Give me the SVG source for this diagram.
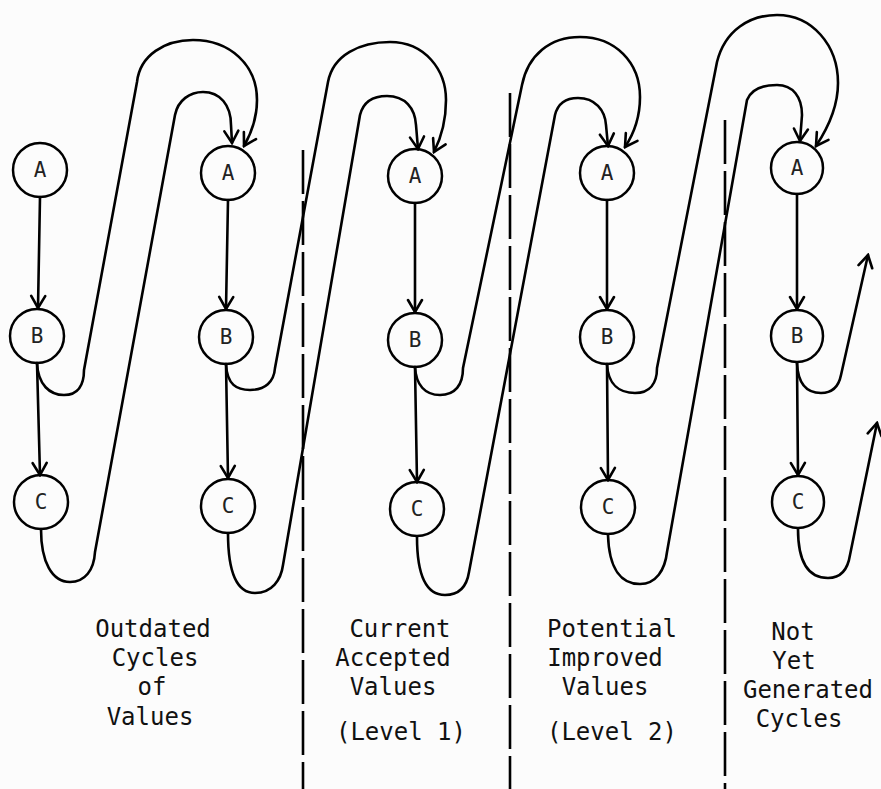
<svg xmlns="http://www.w3.org/2000/svg" width="881" height="789" viewBox="0 0 881 789">
<style>
.n circle{fill:none;stroke:#000;stroke-width:2.5}
.n text{font-family:"DejaVu Sans Mono","Liberation Mono",monospace;font-size:21px;text-anchor:middle;fill:#222}
.c path{fill:none;stroke:#000;stroke-width:2.6;stroke-linejoin:round;stroke-linecap:round}
.c .a{marker-end:url(#ah)}
.d line{stroke:#000;stroke-width:2.6;stroke-dasharray:44 7}
.t text{font-family:"DejaVu Sans Mono","Liberation Mono",monospace;font-size:24px;text-anchor:middle;fill:#111}
</style>
<defs>
<marker id="ah" viewBox="-15 -10 17 20" refX="0" refY="0" markerWidth="17" markerHeight="20" orient="auto" markerUnits="userSpaceOnUse">
<path d="M-12,-7 L0,0 L-12,7" fill="none" stroke="#000" stroke-width="2.6" stroke-linecap="round" stroke-linejoin="miter"/>
</marker>
</defs>
<rect width="881" height="789" fill="#fcfcfc"/>
<g id="dividers" class="d">
<line x1="303" y1="150" x2="303" y2="789"/>
<line x1="510" y1="93" x2="510" y2="789"/>
<line x1="725" y1="120" x2="725" y2="789"/>
</g>
<g id="connectors" class="c">
<path class="a" d="M40,197 L38,308"/>
<path class="a" d="M37,363 L40,475"/>
<path class="a" d="M228,200 L226,309"/>
<path class="a" d="M226,364 L228,478"/>
<path class="a" d="M415,203 L415,312"/>
<path class="a" d="M415,367 L417,482"/>
<path class="a" d="M607,200 L607,309"/>
<path class="a" d="M607,364 L608,480"/>
<path class="a" d="M797,194 L797,309"/>
<path class="a" d="M797,363 L798,475"/>
<path class="a" d="M37,363 C38,385 50,395 64,395 C78,395 84,385 84,370 L137,82 C140,55 165,40 193,40 C230,40 257,65 257,100 C257,118 252,132 244,146"/>
<path class="a" d="M41,529 C41,562 52,582 70,582 C85,582 94,570 95,552 L175,115 C178,100 190,92 203,92 C220,92 231,105 231,125 L232,143"/>
<path class="a" d="M226,364 C227,385 237,390 250,390 C265,390 274,382 275,368 L328,82 C333,55 360,42 390,42 C425,42 446,70 446,100 C446,120 441,138 434,152"/>
<path class="a" d="M228,533 C228,575 238,593 255,593 C272,593 281,580 283,565 L360,115 C363,103 372,96 387,96 C405,96 415,108 416,125 L418,149"/>
<path class="a" d="M415,367 C416,385 425,395 440,395 C455,395 463,385 463,368 L522,85 C528,55 550,37 580,37 C615,37 640,62 640,97 C640,115 635,132 625,147"/>
<path class="a" d="M417,537 C417,578 428,595 445,595 C460,595 467,585 469,572 L555,115 C558,103 566,98 578,98 C595,98 605,110 606,125 L608,146"/>
<path class="a" d="M607,364 C608,385 620,393 635,393 C650,393 657,383 657,368 L717,62 C725,30 750,15 777,15 C812,15 838,45 838,83 C838,108 828,128 816,146"/>
<path class="a" d="M608,535 C609,570 622,584 640,584 C656,584 665,570 667,552 L747,100 C751,90 762,85 777,85 C793,85 802,97 802,115 L800,141"/>
<path class="a" d="M797,363 C798,385 808,393 821,393 C833,393 839,385 841,375 L868,255"/>
<path class="a" d="M798,529 C798,565 810,578 828,578 C842,578 848,568 850,555 L877,423"/>
</g>
<g id="A1" class="n"><circle cx="40" cy="170" r="27"/><text x="40" y="177">A</text></g>
<g id="B1" class="n"><circle cx="37" cy="336" r="27"/><text x="37" y="343">B</text></g>
<g id="C1" class="n"><circle cx="41" cy="502" r="27"/><text x="41" y="509">C</text></g>
<g id="A2" class="n"><circle cx="228" cy="173" r="27"/><text x="228" y="180">A</text></g>
<g id="B2" class="n"><circle cx="226" cy="337" r="27"/><text x="226" y="344">B</text></g>
<g id="C2" class="n"><circle cx="228" cy="506" r="27"/><text x="228" y="513">C</text></g>
<g id="A3" class="n"><circle cx="415" cy="176" r="27"/><text x="415" y="183">A</text></g>
<g id="B3" class="n"><circle cx="415" cy="340" r="27"/><text x="415" y="347">B</text></g>
<g id="C3" class="n"><circle cx="417" cy="509" r="27"/><text x="417" y="516">C</text></g>
<g id="A4" class="n"><circle cx="607" cy="173" r="27"/><text x="607" y="180">A</text></g>
<g id="B4" class="n"><circle cx="607" cy="337" r="27"/><text x="607" y="344">B</text></g>
<g id="C4" class="n"><circle cx="608" cy="507" r="27"/><text x="608" y="514">C</text></g>
<g id="A5" class="n"><circle cx="797" cy="168" r="26"/><text x="797" y="175">A</text></g>
<g id="B5" class="n"><circle cx="797" cy="336" r="26"/><text x="797" y="343">B</text></g>
<g id="C5" class="n"><circle cx="798" cy="502" r="26"/><text x="798" y="509">C</text></g>
<g id="labels" class="t">
<text x="153" y="637">Outdated</text>
<text x="155" y="666">Cycles</text>
<text x="152" y="695">of</text>
<text x="150" y="725">Values</text>
<text x="400" y="637">Current</text>
<text x="393" y="666">Accepted</text>
<text x="393" y="695">Values</text>
<text x="401" y="740">(Level 1)</text>
<text x="612" y="637">Potential</text>
<text x="605" y="666">Improved</text>
<text x="605" y="695">Values</text>
<text x="612" y="740">(Level 2)</text>
<text x="793" y="640">Not</text>
<text x="794" y="669">Yet</text>
<text x="808" y="698">Generated</text>
<text x="799" y="727">Cycles</text>
</g>
</svg>
